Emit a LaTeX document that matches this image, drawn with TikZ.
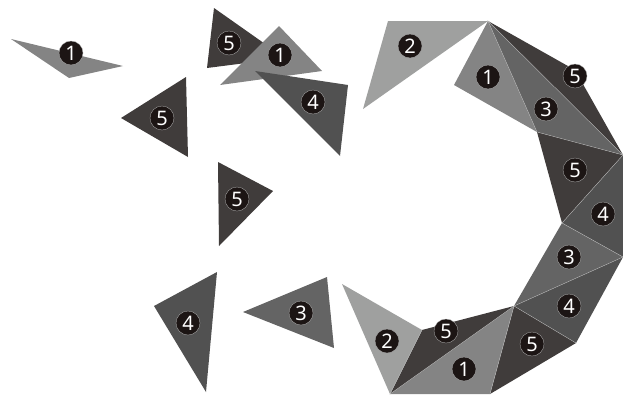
\documentclass[tikz,border=0pt]{standalone}
\usepackage{fontspec}
\setsansfont{Noto Sans}
\usepackage{tikz}
\definecolor{grOne}{HTML}{848484}
\definecolor{grTwo}{HTML}{9FA09F}
\definecolor{grThree}{HTML}{646464}
\definecolor{grFour}{HTML}{515151}
\definecolor{grFive}{HTML}{403C3B}
\definecolor{numBg}{HTML}{1C1514}
\tikzset{
  pcone/.style  ={fill=grOne},
  pctwo/.style  ={fill=grTwo},
  pcthree/.style={fill=grThree},
  pcfour/.style ={fill=grFour},
  pcfive/.style ={fill=grFive},
  pcseam/.style ={draw=white!45!gray, line width=0.35pt},
  pcnum/.style  ={circle, fill=numBg, draw=white!40!gray, line width=0.3pt,
                  minimum size=24pt, inner sep=0pt, text=white,
                  font=\sffamily\fontsize{20}{20}\selectfont},
}

\begin{document}
\begin{tikzpicture}[x=1pt, y=-1pt]
    \useasboundingbox (0,0) rectangle (623,394);
    % loose pieces
    \fill[pcone] (11,39) -- (123,66) -- (69,78) -- cycle;
    \fill[pcfive] (214,8) -- (285,58) -- (207,68) -- cycle;
    \fill[pcone] (279,26) -- (322,71) -- (220,85) -- cycle;
    \fill[pcfour] (255,71) -- (348,85) -- (340,156) -- cycle;
    \fill[pcfive] (121,118) -- (186,77) -- (188,157) -- cycle;
    \fill[pcfive] (218,162) -- (273,191) -- (219,246) -- cycle;
    \fill[pcfour] (154,306) -- (217,272) -- (206,392) -- cycle;
    \fill[pcthree] (243,312) -- (327,277) -- (334,348) -- cycle;
    \fill[pctwo] (388,21) -- (488,21) -- (363,109) -- cycle;
    % the chain
    \coordinate (top) at (488,21);
    \coordinate (a) at (454,85);
    \coordinate (b) at (537,132);
    \coordinate (c) at (623,155);
    \coordinate (d) at (575,70);
    \coordinate (e) at (562,223);
    \coordinate (f) at (623,257);
    \coordinate (g) at (514,306);
    \coordinate (h) at (576,343);
    \coordinate (i) at (490,394);
    \coordinate (j) at (390,394);
    \coordinate (k) at (422,330);
    \coordinate (l) at (342,284);
    \fill[pcone] (top) -- (a) -- (b) -- cycle;
    \fill[pcthree] (top) -- (b) -- (c) -- cycle;
    \fill[pcfive] (top) -- (d) -- (c) -- cycle;
    \fill[pcfive] (b) -- (c) -- (e) -- cycle;
    \fill[pcfour] (c) -- (e) -- (f) -- cycle;
    \fill[pcthree] (e) -- (f) -- (g) -- cycle;
    \fill[pcfour] (f) -- (g) -- (h) -- cycle;
    \fill[pcfive] (g) -- (h) -- (i) -- cycle;
    \fill[pcone] (g) -- (i) -- (j) -- cycle;
    \fill[pcfive] (g) -- (j) -- (k) -- cycle;
    \fill[pctwo] (l) -- (k) -- (j) -- cycle;
    % seams between chain pieces
    \draw[pcseam] (b) -- (top) -- (c) -- (b);
    \draw[pcseam] (c) -- (e) -- (f) -- (g) -- (h);
    \draw[pcseam] (i) -- (g) -- (j) -- (k);
    % numbers
    \node[pcnum] (n1a) at (71,53) {1};
    \node[pcnum] (n5a) at (229,43) {5};
    \node[pcnum] (n1b) at (280,55) {1};
    \node[pcnum] (n4a) at (313,102) {4};
    \node[pcnum] (n5b) at (162,118) {5};
    \node[pcnum] (n5c) at (237,199) {5};
    \node[pcnum] (n4b) at (188,323) {4};
    \node[pcnum] (n3a) at (301,313) {3};
    \node[pcnum] (n2a) at (410,46) {2};
    \node[pcnum] (n1c) at (488,77) {1};
    \node[pcnum] (n3b) at (546,109) {3};
    \node[pcnum] (n5d) at (575,76) {5};
    \node[pcnum] (n5e) at (575,170) {5};
    \node[pcnum] (n4c) at (603,214) {4};
    \node[pcnum] (n3c) at (569,257) {3};
    \node[pcnum] (n4d) at (569,306) {4};
    \node[pcnum] (n5f) at (532,344) {5};
    \node[pcnum] (n1d) at (464,369) {1};
    \node[pcnum] (n5g) at (446,331) {5};
    \node[pcnum] (n2b) at (387,341) {2};
\end{tikzpicture}
\end{document}
